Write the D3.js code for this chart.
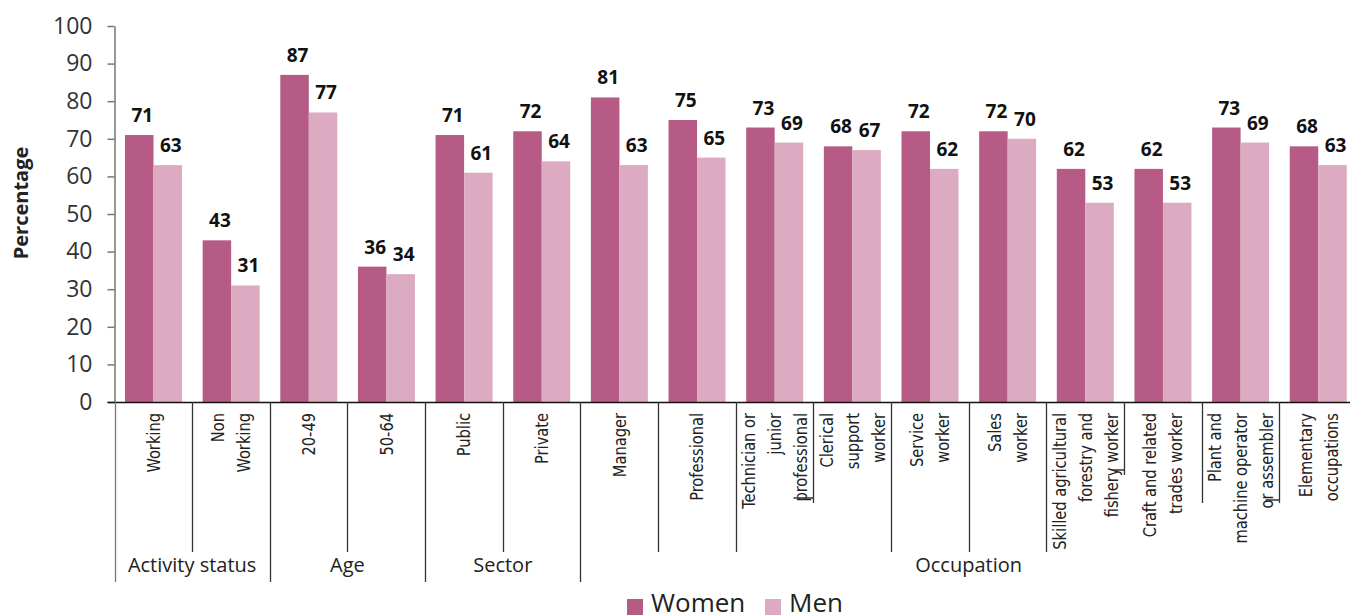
<!DOCTYPE html>
<html>
<head>
<meta charset="utf-8">
<script src="https://cdn.jsdelivr.net/npm/d3@7"></script>
<style>
  body { margin: 0; background: #fff; }
  svg { display: block; }
</style>
</head>
<body>
<div id="chart"></div>
<script>
// data
const categories = [
  ['Working'], ['Non', 'Working'], ['20-49'], ['50-64'], ['Public'], ['Private'],
  ['Manager'], ['Professional'], ['Technician or', 'junior', 'professional'],
  ['Clerical', 'support', 'worker'], ['Service', 'worker'], ['Sales', 'worker'],
  ['Skilled agricultural', 'forestry and', 'fishery worker'],
  ['Craft and related', 'trades worker'],
  ['Plant and', 'machine operator', 'or assembler'],
  ['Elementary', 'occupations']
]
const women = [71, 43, 87, 36, 71, 72, 81, 75, 73, 68, 72, 72, 62, 62, 73, 68]
const men = [63, 31, 77, 34, 61, 64, 63, 65, 69, 67, 62, 70, 53, 53, 69, 63]
const groupNames = ['Activity status', 'Age', 'Sector', 'Occupation']
const groupStart = [0, 2, 4, 6]
const groupEnd = [1, 3, 5, 15]
const yTicks = [0, 10, 20, 30, 40, 50, 60, 70, 80, 90, 100]
const seriesNames = ['Women', 'Men']

const colors = {Women: '#b55b86', Men: '#dcabc1'}
const W = 1350
const H = 615
const margin = {top: 26, left: 114.5, bottom: 213}
const plotBottom = H - margin.bottom
const bandW = 77.65

const svg = d3.select('#chart').append('svg')
  .attr('width', W)
  .attr('height', H)

const ids = categories.map((c, i) => i)
const x = d3.scaleBand()
  .domain(ids)
  .range([margin.left, margin.left + bandW * ids.length])
const xSub = d3.scaleBand()
  .domain(seriesNames)
  .range([10.5, 67.5])
const y = d3.scaleLinear()
  .domain([0, 100])
  .range([plotBottom, margin.top])

// y axis
const yAxis = d3.axisLeft(y).tickValues(yTicks).tickSize(7).tickSizeOuter(0).tickPadding(15)
const gy = svg.append('g')
  .attr('transform', 'translate(' + margin.left + ',0)')
  .call(yAxis)
gy.select('.domain').attr('stroke', '#777').attr('stroke-width', 1.5)
gy.selectAll('.tick line').attr('stroke', '#777').attr('stroke-width', 1.5)
gy.selectAll('.tick text')
  .attr('font-family', '"Open Sans", sans-serif')
  .attr('font-size', 23)
  .attr('fill', '#333')

svg.append('text')
  .attr('transform', 'translate(28,203) rotate(-90)')
  .attr('text-anchor', 'middle')
  .attr('font-family', '"Open Sans", sans-serif')
  .attr('font-weight', 'bold')
  .attr('font-size', 20)
  .attr('fill', '#222')
  .text('Percentage')

// bars
const rows = ids.map(i => ({i, Women: women[i], Men: men[i]}))
const cat = svg.append('g').selectAll('g')
  .data(rows)
  .join('g')
  .attr('transform', d => 'translate(' + x(d.i) + ',0)')

cat.selectAll('rect')
  .data(d => seriesNames.map(s => ({s, v: d[s]})))
  .join('rect')
  .attr('x', d => xSub(d.s))
  .attr('width', xSub.bandwidth())
  .attr('y', d => y(d.v))
  .attr('height', d => y(0) - y(d.v))
  .attr('fill', d => colors[d.s])

cat.selectAll('text.val')
  .data(d => seriesNames.map(s => ({s, v: d[s]})))
  .join('text')
  .attr('class', 'val')
  .attr('x', d => xSub(d.s) + xSub.bandwidth() / 2 + 3)
  .attr('y', d => y(d.v) - 13)
  .attr('text-anchor', 'middle')
  .attr('font-family', '"Open Sans", sans-serif')
  .attr('font-weight', 'bold')
  .attr('font-size', 19)
  .attr('fill', '#111')
  .text(d => d.v)

// x axis line
svg.append('line')
  .attr('x1', margin.left - 7)
  .attr('x2', W)
  .attr('y1', plotBottom + 0.5)
  .attr('y2', plotBottom + 0.5)
  .attr('stroke', '#111')
  .attr('stroke-width', 1.6)

// dividers below the axis
const longEnd = 582
const midEnd = 552
const shortEnd = {9: [503, 20, 498], 13: [475, 12, 470], 14: [503, 0, 0], 15: [503, 14, 500]}
ids.forEach(i => {
  const xx = Math.round(x(i)) + 0.5
  let end = groupStart.includes(i) ? longEnd : midEnd
  let path = 'M' + xx + ',' + plotBottom
  if (shortEnd[i]) {
    end = shortEnd[i][0]
    path += 'L' + xx + ',' + end
    if (shortEnd[i][1]) path += 'M' + xx + ',' + shortEnd[i][2] + 'L' + (xx - shortEnd[i][1]) + ',' + shortEnd[i][2]
  } else {
    path += 'L' + xx + ',' + end
  }
  svg.append('path')
    .attr('d', path)
    .attr('fill', 'none')
    .attr('stroke', i === 0 ? '#777' : '#333')
    .attr('stroke-width', 1.3)
})

// category labels (rotated, condensed)
const lineGap = 26
cat.each(function (d) {
  const lines = categories[d.i]
  const cx = bandW / 2
  const g = d3.select(this).append('g')
    .attr('transform', 'translate(' + cx + ',' + (plotBottom + 11) + ') rotate(-90) scale(0.88,1)')
  lines.forEach((ln, k) => {
    g.append('text')
      .attr('x', 0)
      .attr('y', (k - (lines.length - 1) / 2) * lineGap)
      .attr('dy', '0.35em')
      .attr('text-anchor', 'end')
      .attr('font-family', '"Liberation Sans Narrow", "DejaVu Sans Condensed", "Open Sans", sans-serif')
      .attr('font-stretch', 'condensed')
      .attr('font-size', 18.5)
      .attr('fill', '#222')
      .text(ln)
  })
})

// group labels
groupNames.forEach((name, k) => {
  const x0 = x(groupStart[k])
  const x1 = x(groupEnd[k]) + bandW
  svg.append('text')
    .attr('x', (x0 + x1) / 2)
    .attr('y', 572)
    .attr('text-anchor', 'middle')
    .attr('font-family', '"Open Sans", sans-serif')
    .attr('font-size', 20)
    .attr('fill', '#222')
    .text(name)
})

// legend
const legend = svg.append('g').attr('transform', 'translate(627,599)')
const legX = [0, 138]
seriesNames.forEach((s, k) => {
  legend.append('rect')
    .attr('x', legX[k])
    .attr('y', 0)
    .attr('width', 16)
    .attr('height', 16)
    .attr('fill', colors[s])
  legend.append('text')
    .attr('x', legX[k] + 24)
    .attr('y', 13)
    .attr('font-family', '"Open Sans", sans-serif')
    .attr('font-size', 26)
    .attr('fill', '#222')
    .text(s)
})
</script>
</body>
</html>
